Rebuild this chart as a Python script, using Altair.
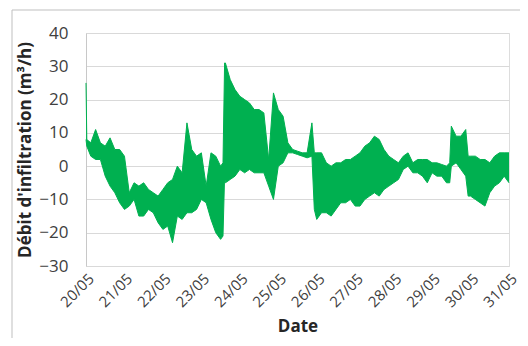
import altair as alt
import pandas as pd

# Hours since 20/05 00:00, with upper / lower envelope of the dense signal (m3/h)
hours = [0, 0.5, 3, 6, 9, 12, 15, 18, 21,
         24, 27, 30, 33, 36, 39, 42, 45,
         48, 51, 54, 57, 60, 63, 66, 69,
         72, 75, 78, 81, 84, 85.5, 86.5, 87, 90, 93,
         96, 99, 102, 105, 108, 111, 114, 117,
         120, 123, 126, 129, 132, 135, 138, 141, 142.5,
         144, 147, 150, 153, 156, 159, 162, 165,
         168, 171, 174, 177, 180, 183, 186, 189,
         192, 195, 198, 201, 204, 207, 210, 213,
         216, 219, 222, 225, 227, 228, 231, 234, 237, 238.5,
         240, 243, 246, 249, 252, 255, 258, 261,
         264]
upper = [25, 8, 7, 11, 7, 6, 8.5, 5, 5,
         3, -8, -5, -6, -5, -7, -8, -9,
         -7, -5, -4, 0, -2, 13, 5, 3,
         4, -6, 4, 3, 0, 1, 31, 31, 26, 23,
         21, 20, 19, 17, 17, 16, 2, 22,
         17, 15, 7, 5, 4.5, 4, 4, 13, 4,
         4, 4, 1, 0, 1, 1, 2, 2,
         3, 4, 6, 7, 9, 8, 5, 3,
         2, 1, 3, 4, 1, 2, 2, 2,
         1, 1, 0.5, 0, 1, 12, 9, 9, 11, 3,
         3, 3, 2, 2, 1, 3, 4, 4,
         4]
lower = [8, 6, 3, 2, 2, -3, -6, -8, -11,
         -13, -12, -10, -15, -15, -13, -14, -17,
         -19, -18, -23, -15, -16, -14, -14, -13,
         -10, -11, -16, -20, -22, -21, -3, -5, -4, -3,
         -1, -2, -1, -2, -2, -2, -6, -10,
         0, 1, 4, 4, 3.5, 3, 2.5, 3, -13,
         -16, -14, -14, -15, -13, -11, -11, -10,
         -12, -12, -10, -9, -8, -9, -7, -6,
         -5, -4, -1, 0, -2, -2, -3, -5,
         -2, -3, -3, -5, -5, 0, 1, -1, -3, -9,
         -9, -10, -11, -12, -8, -6, -5, -3,
         -5]

start = pd.Timestamp("2024-05-20 00:00")
times = [start + pd.Timedelta(hours=h) for h in hours]
df = pd.DataFrame({"t": [t.strftime("%Y-%m-%dT%H:%M:%S") for t in times],
                   "hi": upper, "lo": lower})

day_ticks = [alt.DateTime(year=2024, month=5, date=d) for d in range(20, 32)]
font = "Open Sans"
green = "#00B050"

xscale = alt.Scale(domain=[alt.DateTime(year=2024, month=5, date=20),
                           alt.DateTime(year=2024, month=5, date=31)])
yscale = alt.Scale(domain=[-30, 40], nice=False)

xaxis = alt.Axis(values=day_ticks, format="%d/%m", labelAngle=-45,
                 labelOverlap=False, title="Date", grid=False, domain=False,
                 ticks=False, labelPadding=5, titlePadding=9, labelFont=font,
                 labelFontSize=15, labelColor="#404040",
                 titleFont=font, titleFontSize=17, titleFontWeight="bold",
                 titleColor="#262626")
yaxis = alt.Axis(values=list(range(-30, 41, 10)), title="Débit d'infiltration (m³/h)",
                 labelOverlap=False, grid=True, gridColor="#d9d9d9", domain=True,
                 domainColor="#c8c8c8", ticks=False, labelPadding=18,
                 labelFont=font, labelFontSize=17, labelColor="#404040",
                 titleFont=font, titleFontSize=17, titleFontWeight="bold",
                 titleColor="#262626", titlePadding=4)

x = alt.X("t:T", scale=xscale, axis=xaxis)
band = alt.Chart(df).mark_area(color=green, opacity=1).encode(
    x=x, y=alt.Y("lo:Q", scale=yscale, axis=yaxis), y2="hi:Q")
line_hi = alt.Chart(df).mark_line(color=green, strokeWidth=1).encode(
    x=x, y=alt.Y("hi:Q", scale=yscale, axis=yaxis))
line_lo = alt.Chart(df).mark_line(color=green, strokeWidth=1).encode(
    x=x, y=alt.Y("lo:Q", scale=yscale, axis=yaxis))

frame = alt.Chart(pd.DataFrame({"k": [0]})).mark_rect(
    fill="transparent", stroke="#bfbfbf", strokeWidth=1).encode(
    x=alt.value(-74), x2=alt.value(600), y=alt.value(-23), y2=alt.value(400))

chart = alt.layer(band, line_hi, line_lo, frame).properties(
    width=423, height=233,
    autosize=alt.AutoSizeParams(type="none"),
    padding={"left": 78, "top": 25, "right": 11, "bottom": 72},
).configure_view(strokeWidth=0).configure(background="white")

chart.save("out.html", embed_options={"renderer": "svg", "actions": False})
